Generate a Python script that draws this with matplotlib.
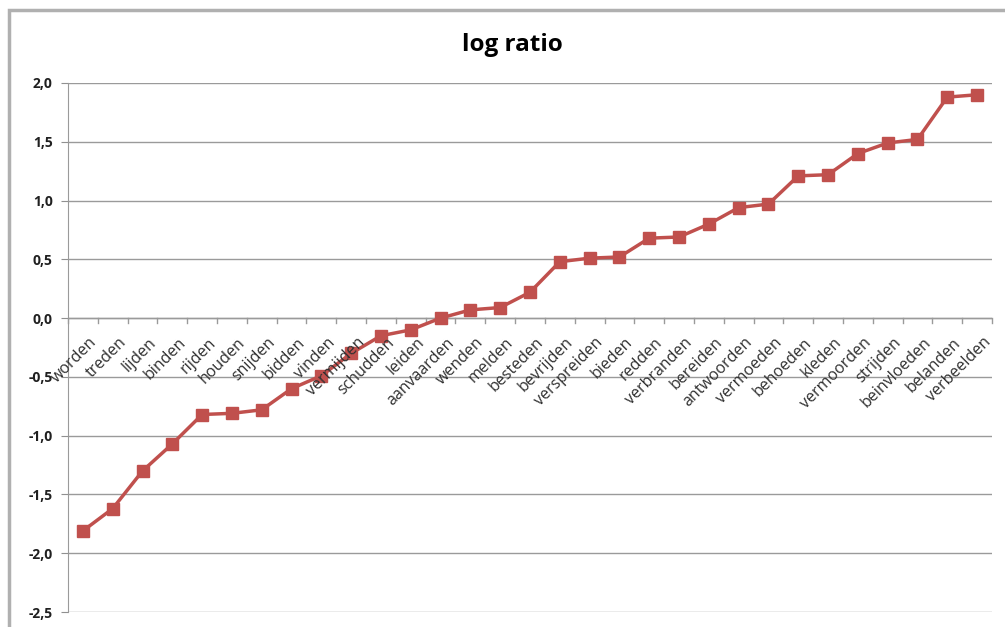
import matplotlib
matplotlib.use("Agg")
import matplotlib.pyplot as plt
from matplotlib.patches import Rectangle
from matplotlib.ticker import FuncFormatter

categories = ["worden", "treden", "lijden", "binden", "rijden", "houden", "snijden",
              "bidden", "vinden", "vermijden", "schudden", "leiden", "aanvaarden",
              "wenden", "melden", "besteden", "bevrijden", "verspreiden", "bieden",
              "redden", "verbranden", "bereiden", "antwoorden", "vermoeden", "behoeden",
              "kleden", "vermoorden", "strijden", "beinvloeden", "belanden", "verbeelden"]
values = [-1.81, -1.62, -1.30, -1.07, -0.82, -0.81, -0.78, -0.60, -0.49, -0.30,
          -0.15, -0.10, 0.00, 0.07, 0.09, 0.22, 0.48, 0.51, 0.52, 0.68, 0.69,
          0.80, 0.94, 0.97, 1.21, 1.22, 1.40, 1.49, 1.52, 1.88, 1.90]
y_ticks = [-2.5, -2.0, -1.5, -1.0, -0.5, 0.0, 0.5, 1.0, 1.5, 2.0]
title = "log ratio"

plt.rcParams['font.family'] = ['Open Sans', 'DejaVu Sans']

fig = plt.figure(figsize=(10.05, 6.27), dpi=100)
ax = fig.add_axes([68 / 1005, 1 - 612 / 627, (992 - 68) / 1005, (612 - 83) / 627])

# Outer chart border (screenshot frame)
fig.patches.append(Rectangle((9 / 1005, -0.05), 1.2, 1 - 10 / 627 + 0.05,
                             transform=fig.transFigure, fill=False,
                             edgecolor='#b0b0b0', linewidth=2.5))

x = list(range(len(categories)))
ax.plot(x, values, color='#C0504D', linewidth=2.5, marker='s', markersize=8.5,
        markerfacecolor='#C0504D', markeredgecolor='#C0504D', zorder=3)

ax.set_xlim(-0.5, len(categories) - 0.5)
ax.set_ylim(-2.5, 2.0)
ax.set_yticks(y_ticks)
ax.yaxis.set_major_formatter(FuncFormatter(lambda v, p: f"{v:.1f}".replace('.', ',')))
for lab in ax.get_yticklabels():
    lab.set_fontweight('bold')
    lab.set_fontsize(10)
    lab.set_color('#202020')
ax.tick_params(axis='y', length=5, color='#909090', pad=6)
ax.grid(axis='y', color='#9a9a9a', linewidth=1.0)
ax.set_axisbelow(True)
ax.set_xticks([])

for s in ['top', 'right', 'bottom']:
    ax.spines[s].set_visible(False)
ax.spines['left'].set_color('#9a9a9a')

# Category axis at y=0 with tick marks
ax.axhline(0, color='#9a9a9a', linewidth=1.0, zorder=1)
for i in range(len(categories) + 1):
    ax.plot([i - 0.5, i - 0.5], [0, -0.045], color='#9a9a9a', linewidth=1.0,
            zorder=1, clip_on=False)

for i, c in enumerate(categories):
    ax.text(i + 0.18, -0.14, c, rotation=45, rotation_mode='anchor',
            ha='right', va='top', fontsize=11.5, color='#303030', zorder=4)

fig.text(512 / 1005, 1 - 45 / 627, title, ha='center', va='center',
         fontsize=17.5, fontweight='bold')

fig.savefig("out.png", dpi=100)
